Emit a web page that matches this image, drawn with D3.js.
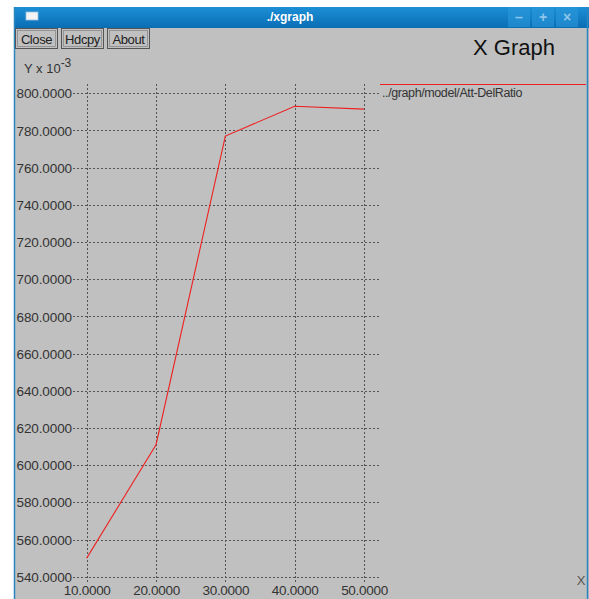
<!DOCTYPE html>
<html>
<head>
<meta charset="utf-8">
<script src="https://cdn.jsdelivr.net/npm/d3@7/dist/d3.min.js"></script>
<style>
  html, body { margin: 0; padding: 0; background: #ffffff; }
  svg { display: block; }
</style>
</head>
<body>
<svg id="chart" width="589" height="599"></svg>
<script>
// Series: attack vs. delivery ratio (Y scaled by 10^-3)
const xValues = [10, 20, 30, 40, 50];
const yValues = [550, 611, 777, 793, 791.5];
const xTicks = [10, 20, 30, 40, 50];
const yTicks = [540, 560, 580, 600, 620, 640, 660, 680, 700, 720, 740, 760, 780, 800];
const seriesName = "../graph/model/Att-DelRatio";
const buttons = ["Close", "Hdcpy", "About"];

const svg = d3.select("#chart");
const font = "'Liberation Sans', 'DejaVu Sans', sans-serif";

// Window frame
const defs = svg.append("defs");
const grad = defs.append("linearGradient").attr("id", "titlebar").attr("x1", 0).attr("y1", 0).attr("x2", 0).attr("y2", 1);
grad.append("stop").attr("offset", "0%").attr("stop-color", "#1c8fd6");
grad.append("stop").attr("offset", "100%").attr("stop-color", "#0a6db4");

svg.append("rect").attr("x", 14).attr("y", 7).attr("width", 575).attr("height", 592).attr("fill", "#c0c0c0");
svg.append("rect").attr("x", 14).attr("y", 7).attr("width", 575).attr("height", 21).attr("fill", "url(#titlebar)");
svg.append("line").attr("x1", 14.5).attr("x2", 14.5).attr("y1", 7).attr("y2", 599).attr("stroke", "#2a86c0").attr("stroke-width", 1.5);
svg.append("line").attr("x1", 587.5).attr("x2", 587.5).attr("y1", 7).attr("y2", 599).attr("stroke", "#2a86c0").attr("stroke-width", 1.5);

// Title bar content
svg.append("rect").attr("x", 26).attr("y", 12).attr("width", 12).attr("height", 8).attr("fill", "#f4f4f4").attr("stroke", "#9ac4e0").attr("stroke-width", 0.8);
svg.append("text").attr("x", 290).attr("y", 21).attr("text-anchor", "middle")
  .attr("font-family", font).attr("font-size", 12).attr("font-weight", "bold").attr("fill", "#ffffff").text("./xgraph");

const winBtns = [
  { x: 508, glyph: "–" },
  { x: 532, glyph: "+" },
  { x: 556, glyph: "×" }
];
winBtns.forEach(b => {
  svg.append("rect").attr("x", b.x).attr("y", 7).attr("width", 22).attr("height", 20).attr("fill", "#2c98da").attr("opacity", 0.6);
  svg.append("text").attr("x", b.x + 11).attr("y", 22).attr("text-anchor", "middle")
    .attr("font-family", font).attr("font-size", 14).attr("font-weight", "bold").attr("fill", "#8fc6ea").text(b.glyph);
});

// Buttons
let bx = 15;
const bWidths = [42, 42, 42];
buttons.forEach((label, i) => {
  svg.append("rect").attr("x", bx + 0.5).attr("y", 28.5).attr("width", bWidths[i]).attr("height", 20)
    .attr("fill", "#c0c0c0").attr("stroke", "#555555").attr("stroke-width", 1);
  svg.append("rect").attr("x", bx + 2.5).attr("y", 30.5).attr("width", bWidths[i] - 4).attr("height", 16)
    .attr("fill", "none").attr("stroke", "#8a8a8a").attr("stroke-width", 0.8);
  svg.append("text").attr("x", bx + 0.5 + bWidths[i] / 2).attr("y", 43.5).attr("text-anchor", "middle")
    .attr("font-family", font).attr("font-size", 13).attr("fill", "#222").attr("letter-spacing", -0.4).text(label);
  bx += bWidths[i] + 4;
});

// Header texts
svg.append("text").attr("x", 473).attr("y", 55).attr("font-family", font).attr("font-size", 22)
  .attr("fill", "#111").text("X Graph");

const yUnit = svg.append("text").attr("x", 24).attr("y", 73).attr("font-family", font).attr("font-size", 13).attr("fill", "#333");
yUnit.append("tspan").text("Y x 10");
yUnit.append("tspan").attr("dy", -6).attr("font-size", 12).text("-3");

// Scales
const x = d3.scaleLinear().domain([10, 50]).range([86.7, 364]);
const y = d3.scaleLinear().domain([540, 800]).range([576.7, 93.3]);

// Grid
const grid = svg.append("g").attr("stroke", "#3a3a3a").attr("stroke-width", 1).attr("stroke-dasharray", "2,2").attr("opacity", 0.8);
grid.selectAll("line.h").data(yTicks).join("line").attr("class", "h")
  .attr("x1", 73).attr("x2", 380)
  .attr("y1", d => Math.round(y(d)) + 0.5).attr("y2", d => Math.round(y(d)) + 0.5);
grid.selectAll("line.v").data(xTicks).join("line").attr("class", "v")
  .attr("x1", d => Math.round(x(d)) + 0.5).attr("x2", d => Math.round(x(d)) + 0.5)
  .attr("y1", 84).attr("y2", 582);

// Axis labels
const yAxis = d3.axisLeft(y).tickValues(yTicks).tickSize(0).tickPadding(0).tickFormat(d3.format(".4f"));
const yg = svg.append("g").attr("transform", "translate(72,0)").call(yAxis);
yg.select(".domain").remove();
yg.selectAll("text").attr("font-family", font).attr("font-size", 13.5).attr("fill", "#333")
  .attr("letter-spacing", -0.1).attr("dy", "0.34em");

const xAxis = d3.axisBottom(x).tickValues(xTicks).tickSize(0).tickPadding(0).tickFormat(d3.format(".4f"));
const xg = svg.append("g").attr("transform", "translate(0,583)").call(xAxis);
xg.select(".domain").remove();
xg.selectAll("text").attr("font-family", font).attr("font-size", 13.5).attr("fill", "#333")
  .attr("letter-spacing", -0.3).attr("dy", "0.9em");

// Data line
const line = d3.line().x((d, i) => x(xValues[i])).y(d => y(d));
svg.append("path").datum(yValues).attr("d", line).attr("fill", "none")
  .attr("stroke", "#ee2020").attr("stroke-width", 1.1);

// Legend
svg.append("line").attr("x1", 380).attr("x2", 586).attr("y1", 84.5).attr("y2", 84.5)
  .attr("stroke", "#ee2020").attr("stroke-width", 1.2);
svg.append("text").attr("x", 382).attr("y", 97).attr("font-family", font).attr("font-size", 12.5)
  .attr("fill", "#333").attr("letter-spacing", -0.4).text(seriesName);

// X axis name
svg.append("text").attr("x", 581).attr("y", 585).attr("text-anchor", "middle").attr("font-family", font)
  .attr("font-size", 13).attr("fill", "#555").text("X");
</script>
</body>
</html>
